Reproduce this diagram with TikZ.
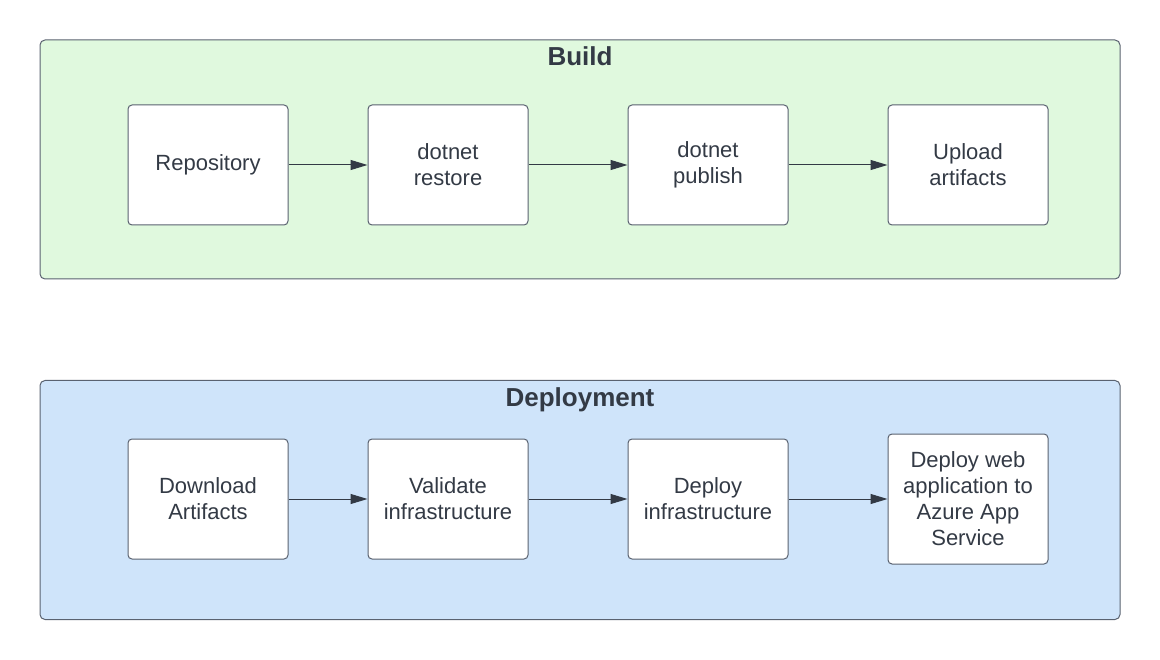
\documentclass[tikz,border=0pt]{standalone}
\usepackage{fontspec}
\setmainfont{Liberation Sans}
\usetikzlibrary{arrows.meta,chains,positioning}

\definecolor{buildfill}{HTML}{E0F9DE}
\definecolor{deployfill}{HTML}{CFE4FA}
\definecolor{edge}{HTML}{5A6270}
\definecolor{ink}{HTML}{333A45}

\begin{document}
\begin{tikzpicture}[%
    x=1pt, y=-1pt,               % Work in pixel units, top-down
    >={Triangle[length=17pt, width=10pt]},
    node distance=260pt,         % Centre-to-centre spacing of steps
    every join/.style={norm},    % Default linetype for connecting boxes
    ]
% -------------------------------------------------
% A few box styles
% <on grid> before <on chain>, so spacing is centre to centre
\tikzset{
  panel/.style={draw=edge, line width=1pt, rounded corners=5pt,
    minimum width=1080pt, minimum height=239pt},
  title/.style={inner sep=0pt, text=ink, font=\fontsize{26}{30}\selectfont\bfseries},
  base/.style={draw=edge, fill=white, line width=1pt, rounded corners=4pt,
    on grid, on chain, align=center, text=ink, minimum width=160pt,
    font=\fontsize{22}{26}\selectfont},
  proc/.style={base, minimum height=120pt},
  tall/.style={base, minimum height=130pt},
  % Connector line style
  norm/.style={->, draw=ink, line width=1pt},
}
\useasboundingbox (0,0) rectangle (1160,660);
% -------------------------------------------------
% Background panels with their titles
\node [panel, fill=buildfill] (build) at (580,159.5) {};
\node [title, below=7pt of build.north] (buildtitle) {Build};
\node [panel, fill=deployfill] (deploy) at (580,500) {};
\node [title, below=7pt of deploy.north] (deploytitle) {Deployment};

% -------------------------------------------------
% Build steps (first gap is a bit shorter)
\begin{scope}[start chain=going right]
\node [proc] (repo) at (208,165) {Repository};
\node [node distance=240pt, proc, join] (restore) {dotnet\\restore};
\node [proc, join] (publish) {dotnet\\publish};
\node [proc, join] (upload) {Upload\\artifacts};
\end{scope}

% -------------------------------------------------
% Deployment steps
\begin{scope}[start chain=going right]
\node [proc] (download) at (208,499) {Download\\Artifacts};
\node [node distance=240pt, proc, join] (validate) {Validate\\infrastructure};
\node [proc, join] (infra) {Deploy\\infrastructure};
\node [tall, join] (webapp) {Deploy web\\application to\\Azure App\\Service};
\end{scope}

% -------------------------------------------------
\end{tikzpicture}
\end{document}
